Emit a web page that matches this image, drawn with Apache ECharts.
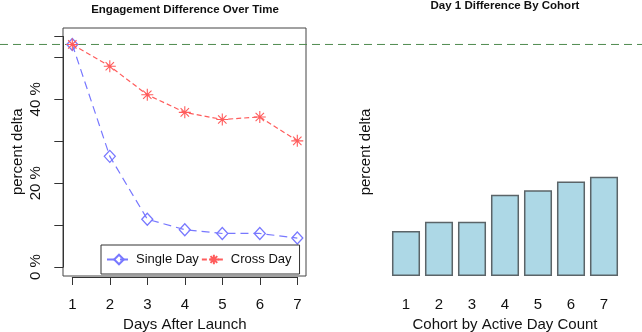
<!DOCTYPE html>
<html><head><meta charset="utf-8">
<script src="https://cdn.jsdelivr.net/npm/echarts@6/dist/echarts.min.js"></script>
<style>html,body{margin:0;padding:0;background:#fff}#c{width:642px;height:332px}</style>
</head><body><div id="c"></div>
<script>
const days = [1, 2, 3, 4, 5, 6, 7];
const singleDay = [53.1, 26.4, 11.4, 8.9, 8.0, 8.0, 6.9];
const crossDay = [53.1, 47.9, 41.1, 36.9, 35.2, 35.8, 30.1];
const cohorts = ['1', '2', '3', '4', '5', '6', '7'];
const cohortDelta = [10.7, 12.9, 12.9, 19.3, 20.4, 22.5, 23.6];
const refLine = 53.1;
const yTicksLabeled = [0, 20, 40];

const FONT = 'Liberation Sans, Arial, sans-serif';
const BLUE = '#7878ff';
const RED = '#ff5c5c';
const asterisk = 'path://M0,-10L0,10M-10,0L10,0M-7,-7L7,7M-7,7L7,-7';

const chart = echarts.init(document.getElementById('c'), null, {renderer: 'canvas'});
const hidden = {show: false};
chart.setOption({
  animation: false,
  backgroundColor: '#fff',
  textStyle: {fontFamily: FONT},
  title: [
    {text: 'Engagement Difference Over Time', left: 185, top: 4, textAlign: 'center', padding: 0,
     textStyle: {fontSize: 11.5, fontWeight: 'bold', color: '#111', fontFamily: FONT}},
    {text: 'Day 1 Difference By Cohort', left: 505, top: 0, textAlign: 'center', padding: 0,
     textStyle: {fontSize: 11.5, fontWeight: 'bold', color: '#111', fontFamily: FONT}}
  ],
  legend: {
    data: ['Single Day', 'Cross Day'],
    left: 101, top: 245, orient: 'horizontal',
    padding: [8, 8, 8, 5], itemGap: 2, itemWidth: 24, itemHeight: 12,
    borderColor: '#333', borderWidth: 1, backgroundColor: '#fff',
    textStyle: {fontSize: 13, color: '#111', fontFamily: FONT}
  },
  grid: [
    {left: 63, top: 28, width: 243, height: 248, show: true, borderColor: '#444', borderWidth: 1, backgroundColor: 'transparent', containLabel: false, outerBoundsMode: 'none'},
    {left: 72.3, top: 36.5, width: 225, height: 230.5, containLabel: false, outerBoundsMode: 'none'},
    {left: 0, top: 36.5, right: 0, height: 230.5, containLabel: false, outerBoundsMode: 'none'},
    {left: 389.5, top: 28, width: 231, height: 248, containLabel: false, outerBoundsMode: 'none'}
  ],
  xAxis: [
    {gridIndex: 0, type: 'value', show: false, min: 0, max: 1},
    {gridIndex: 1, type: 'value', min: 1, max: 7, interval: 1, offset: 10,
     name: 'Days After Launch', nameLocation: 'middle', nameGap: 37,
     nameTextStyle: {fontSize: 15, color: '#111', fontFamily: FONT},
     axisLine: {show: true, onZero: false, lineStyle: {color: '#333', width: 1}},
     axisTick: {show: true, length: 8, lineStyle: {color: '#333'}},
     axisLabel: {fontSize: 15, color: '#111', margin: 20, fontFamily: FONT},
     splitLine: hidden},
    {gridIndex: 2, type: 'value', show: false, min: 0, max: 1},
    {gridIndex: 3, type: 'category', data: cohorts,
     name: 'Cohort by Active Day Count', nameLocation: 'middle', nameGap: 38,
     nameTextStyle: {fontSize: 15, color: '#111', fontFamily: FONT},
     axisLine: hidden, axisTick: hidden,
     axisLabel: {fontSize: 15, color: '#111', margin: 21, fontFamily: FONT},
     splitLine: hidden}
  ],
  yAxis: [
    {gridIndex: 0, type: 'value', show: false, min: 0, max: 1},
    {gridIndex: 1, type: 'value', min: 0, max: 55, interval: 10, offset: 9,
     name: 'percent delta', nameLocation: 'middle', nameGap: 38,
     nameTextStyle: {fontSize: 15, color: '#111', fontFamily: FONT},
     axisLine: {show: true, onZero: false, lineStyle: {color: '#333', width: 1}},
     axisTick: {show: true, length: 9, lineStyle: {color: '#333'}},
     axisLabel: {fontSize: 15, color: '#111', margin: 20, rotate: 90, fontFamily: FONT,
       formatter: v => yTicksLabeled.includes(v) ? v + ' %' : ''},
     splitLine: hidden},
    {gridIndex: 2, type: 'value', show: false, min: 0, max: 55},
    {gridIndex: 3, type: 'value', min: 0, max: 59,
     name: 'percent delta', nameLocation: 'middle', nameGap: 16,
     nameTextStyle: {fontSize: 15, color: '#111', fontFamily: FONT},
     axisLine: hidden, axisTick: hidden, axisLabel: hidden, splitLine: hidden}
  ],
  series: [
    {name: 'ref', type: 'line', xAxisIndex: 2, yAxisIndex: 2, symbol: 'none', silent: true,
     data: [[0, refLine], [1, refLine]],
     lineStyle: {color: '#4f8a4f', width: 1, type: [8, 5]}, z: 1},
    {name: 'Single Day', type: 'line', xAxisIndex: 1, yAxisIndex: 1,
     data: days.map((d, i) => [d, singleDay[i]]),
     symbol: 'diamond', symbolSize: [11, 12],
     itemStyle: {color: 'rgba(255,255,255,0)', borderColor: BLUE, borderWidth: 1.3},
     lineStyle: {color: BLUE, width: 1.2, type: [8, 5]}, z: 3},
    {name: 'Cross Day', type: 'line', xAxisIndex: 1, yAxisIndex: 1,
     data: days.map((d, i) => [d, crossDay[i]]),
     symbol: asterisk, symbolSize: 12,
     itemStyle: {color: 'rgba(255,255,255,0)', borderColor: RED, borderWidth: 1.1},
     lineStyle: {color: RED, width: 1.2, type: [5, 3]}, z: 4},
    {name: 'cohort', type: 'bar', xAxisIndex: 3, yAxisIndex: 3,
     data: cohortDelta, barCategoryGap: '15%',
     itemStyle: {color: '#add8e6', borderColor: '#5b6468', borderWidth: 1.5}}
  ]
});
</script></body></html>
